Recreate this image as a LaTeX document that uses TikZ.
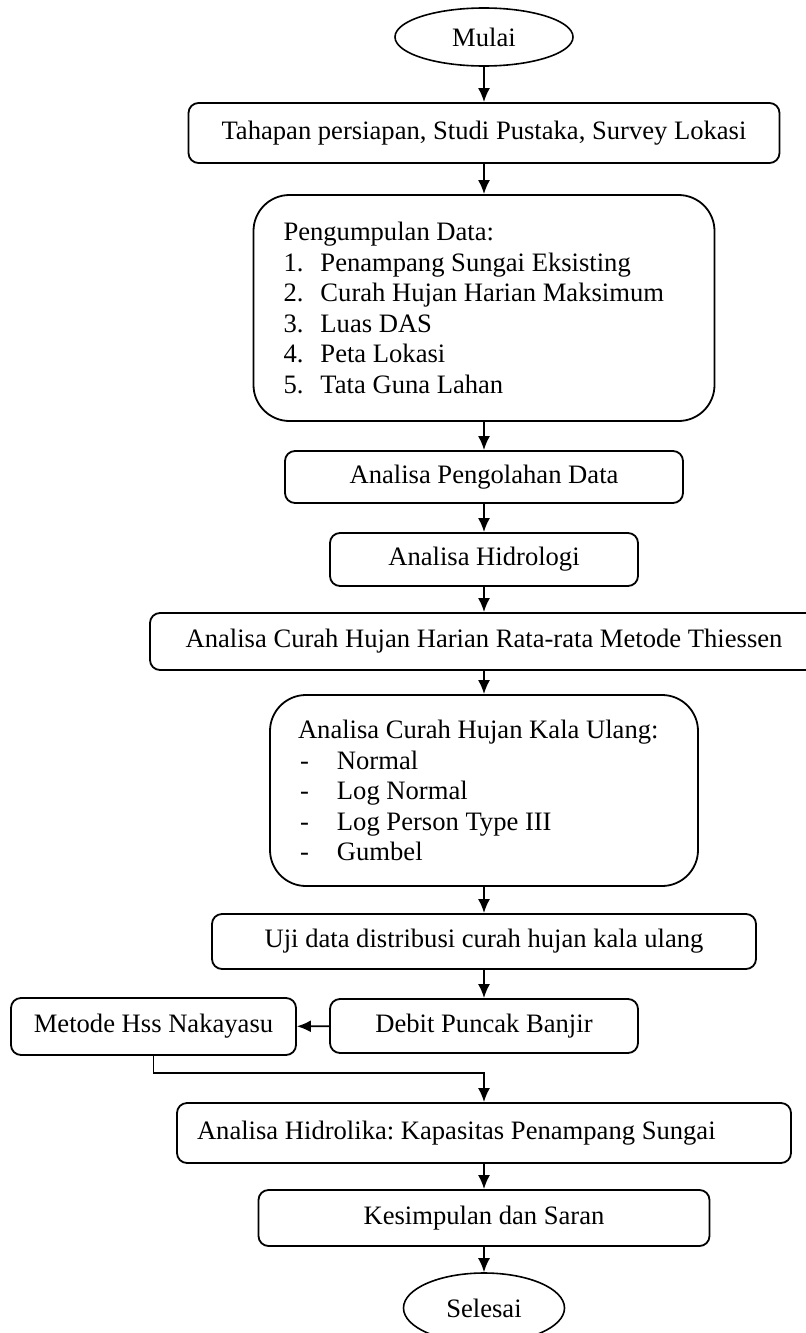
\documentclass[tikz,border=0pt]{standalone}
\usepackage{fontspec}
\setmainfont{Liberation Serif}
\usetikzlibrary{shapes.geometric,arrows.meta}

\begin{document}
\begin{tikzpicture}
			[x=0.5pt,y=-0.5pt,
			every node/.style={font=\fontsize{13.3}{15.25}\selectfont\frenchspacing},
			proses/.style={draw,line width=0.9pt,rounded corners=5pt,inner sep=0pt},
			daftar/.style={draw,line width=0.9pt,rounded corners=18pt,align=flush left,text width=#1},
			terminal/.style={draw,ellipse,line width=0.8pt,inner sep=0pt},
			panah/.style={-{Latex[length=7pt,width=6pt]},line width=0.9pt}]
			\useasboundingbox (0,0) rectangle (806,1333);
			\node[terminal,minimum width=89pt,minimum height=29pt] (mulai) at (484,37) {Mulai};
			\node[proses,minimum width=295.5pt,minimum height=30pt] (persiapan) at (484,133) {Tahapan persiapan, Studi Pustaka, Survey Lokasi};
			\node[daftar=200.5pt,inner xsep=15pt,minimum height=113pt] (data) at (484,308)
			{Pengumpulan Data:\\
				\makebox[18.5pt][l]{1.}Penampang Sungai Eksisting\\
				\makebox[18.5pt][l]{2.}Curah Hujan Harian Maksimum\\
				\makebox[18.5pt][l]{3.}Luas DAS\\
				\makebox[18.5pt][l]{4.}Peta Lokasi\\
				\makebox[18.5pt][l]{5.}Tata Guna Lahan};
			\node[proses,minimum width=199pt,minimum height=26pt] (olahdata) at (484,477) {Analisa Pengolahan Data};
			\node[proses,minimum width=154pt,minimum height=26.5pt] (hidrologi) at (484,559.5) {Analisa Hidrologi};
			\node[proses,minimum width=334pt,minimum height=28.5pt] (thiessen) at (484,641.5) {Analisa Curah Hujan Harian Rata-rata Metode Thiessen};
			\node[daftar=186pt,inner xsep=14pt,minimum height=95.5pt] (kalaulang) at (484,790.5)
			{Analisa Curah Hujan Kala Ulang:\\
				\makebox[19.5pt][l]{\hspace{1pt}-}Normal\\
				\makebox[19.5pt][l]{\hspace{1pt}-}Log Normal\\
				\makebox[19.5pt][l]{\hspace{1pt}-}Log Person Type III\\
				\makebox[19.5pt][l]{\hspace{1pt}-}Gumbel};
			\node[proses,minimum width=272pt,minimum height=27.5pt] (uji) at (484,941.5) {Uji data distribusi curah hujan kala ulang};
			\node[proses,minimum width=154pt,minimum height=27pt] (debit) at (484,1026) {Debit Puncak Banjir};
			\node[proses,minimum width=142.5pt,minimum height=28.5pt] (nakayasu) at (153.5,1026.5) {Metode Hss Nakayasu};
			\node[proses,text width=287pt,inner xsep=10pt,align=flush left,minimum height=30pt] (hidrolika) at (484,1133) {Analisa Hidrolika: Kapasitas Penampang Sungai};
			\node[proses,minimum width=225.5pt,minimum height=28pt] (kesimpulan) at (484,1218) {Kesimpulan dan Saran};
			\node[terminal,minimum width=80.5pt,minimum height=35pt] (selesai) at (484,1308) {Selesai};
			\coordinate (belok) at (484,1073);
			\path[panah]
			(mulai) edge (persiapan)
			(persiapan) edge (data)
			(data) edge (olahdata)
			(olahdata) edge (hidrologi)
			(hidrologi) edge (thiessen)
			(thiessen) edge (kalaulang)
			(kalaulang) edge (uji)
			(uji) edge (debit)
			(debit) edge (nakayasu)
			(hidrolika) edge (kesimpulan)
			(kesimpulan) edge (selesai);
			\draw[panah] (nakayasu.south) |- (belok) -- (hidrolika);
		\end{tikzpicture}
\end{document}
